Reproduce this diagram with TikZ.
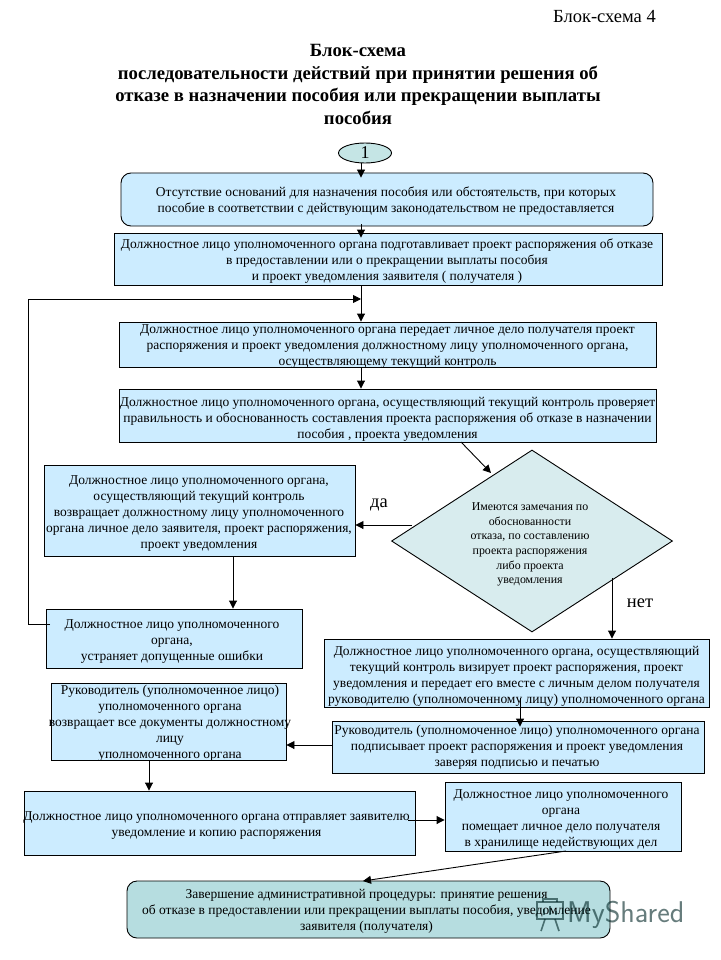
\documentclass[tikz,border=0pt]{standalone}
\usepackage{fontspec}
\setmainfont{Liberation Serif}
\usepackage{tikz}
\usetikzlibrary{arrows.meta,shapes.geometric,calc}
\definecolor{boxblue}{HTML}{CCECFF}
\definecolor{dia}{HTML}{D8ECEE}
\definecolor{ell}{HTML}{C5E5E5}
\definecolor{endc}{HTML}{B6DDE0}
\tikzset{
 box/.style={draw=black,line width=0.9pt,fill=boxblue,inner sep=0pt},
 rbox/.style={box,rounded corners=10pt},
 txt/.style={align=center,inner sep=0pt,font=\fontsize{13.5}{16}\selectfont},
 arr/.style={draw=black,line width=0.9pt,-{Triangle[length=8pt,width=8pt]}},
 lin/.style={draw=black,line width=0.9pt},
 lab/.style={font=\fontsize{18.5}{20}\selectfont,inner sep=0pt},
}
% name, x0,y0,x1,y1, style, dx, dy, text
\newcommand{\bx}[9]{\node[#6,minimum width={#4-#2},minimum height={#5-#3}] (#1) at ({(#2+#4)/2},{(#3+#5)/2}) {};
\node[txt] (#1t) at ({(#2+#4)/2+#7},{(#3+#5)/2+#8}) {#9};}
\begin{document}
\begin{tikzpicture}[x=1pt,y=-1pt]
\useasboundingbox (0,0) rectangle (720,960);
\fill[white] (0,0) rectangle (720,960);
\node[lab,anchor=east] (hdr) at (656,17) {Блок-схема 4};
\node[align=center,inner sep=0pt,font=\fontsize{18.7}{22.7}\selectfont\bfseries] (ttl) at (358,84.5) {Блок-схема\\последовательности действий при принятии решения об\\отказе в назначении пособия или прекращении выплаты\\пособия};
\node[ellipse,draw=black,line width=0.9pt,fill=ell,minimum width=53pt,minimum height=20pt,inner sep=0pt,font=\fontsize{18}{18}\selectfont] (e1) at (365,153) {1};
\bx{b1}{121}{173}{653}{226}{rbox}{-1}{2}{Отсутствие оснований для назначения пособия или обстоятельств, при которых\\пособие в соответствии с действующим законодательством не предоставляется}
\bx{b2}{114}{233}{662}{285}{box}{-1}{2.5}{Должностное лицо уполномоченного органа подготавливает проект распоряжения об отказе\\в предоставлении или о прекращении выплаты пособия\\и проект уведомления заявителя ( получателя )}
\bx{b3}{119}{322}{656}{367}{box}{0}{2}{Должностное лицо уполномоченного органа передает личное дело получателя проект\\распоряжения и проект уведомления должностному лицу уполномоченного органа,\\осуществляющему текущий контроль}
\bx{b4}{119}{389}{656}{442}{box}{0}{3.5}{Должностное лицо уполномоченного органа, осуществляющий текущий контроль проверяет\\правильность и обоснованность составления проекта распоряжения об отказе в назначении\\пособия , проекта уведомления}
\bx{b5}{44}{465}{355}{556}{box}{-0.5}{3.5}{Должностное лицо уполномоченного органа,\\осуществляющий текущий контроль\\возвращает должностному лицу уполномоченного\\органа личное дело заявителя, проект распоряжения,\\проект уведомления}
\bx{b6}{46}{609}{302}{668}{box}{-2}{3}{Должностное лицо уполномоченного\\органа,\\устраняет допущенные ошибки}
\node[diamond,draw=black,line width=0.9pt,fill=dia,minimum width=281pt,minimum height=182pt,inner sep=0pt,aspect=1.54,align=center] (d1) at (532,541) {};
\node[align=center,inner sep=0pt,font=\fontsize{11.9}{14.6}\selectfont] (dt) at (530,544.5) {Имеются замечания по\\обоснованности\\отказа, по составлению\\проекта распоряжения\\либо проекта\\уведомления};
\bx{b7}{324}{639}{709}{707}{box}{0}{3}{Должностное лицо уполномоченного органа, осуществляющий\\текущий контроль визирует проект распоряжения, проект\\уведомления и передает его вместе с личным делом получателя\\руководителю (уполномоченному лицу) уполномоченного органа}
\bx{b8}{51}{683}{286}{760}{box}{1.5}{2}{Руководитель (уполномоченное лицо)\\уполномоченного органа\\возвращает все документы должностному\\лицу\\уполномоченного органа}
\bx{b9}{332}{721}{704}{773}{box}{-1}{0}{Руководитель (уполномоченное лицо) уполномоченного органа\\подписывает проект распоряжения и проект уведомления\\заверяя подписью и печатью}
\bx{b10}{24}{791}{415}{855}{box}{-3}{3}{Должностное лицо уполномоченного органа отправляет заявителю\\уведомление и копию распоряжения}
\bx{b11}{445}{782}{681}{851}{box}{-2}{3}{Должностное лицо уполномоченного\\органа\\помещает личное дело получателя\\в хранилище недействующих дел}
\bx{b12}{127}{881}{610}{938}{rbox,fill=endc}{-2}{2}{Завершение административной процедуры: принятие решения\\об отказе в предоставлении или прекращении выплаты пособия, уведомление\\заявителя (получателя)}
\node[lab] (da) at (379,505) {да};
\node[lab] (net) at (640,603) {нет};
% helper coordinates
\coordinate (xm) at (361,0);
\coordinate (lp) at (28,299);
\coordinate (lb7) at (520,0);
\coordinate (lb5) at (233,0);
\coordinate (lb8) at (149,0);
\draw[arr] (e1.south -| xm) -- ($(b1.north -| xm)+(0,5)$);
\draw[arr] ($(b1.south -| xm)+(0,-2)$) -- ($(b2.north -| xm)+(0,5)$);
\draw[arr] (b2.south -| xm) -- (b3.north -| xm);
\draw[arr] (b3.south -| xm) -- (b4.north -| xm);
\coordinate (dA) at (461,442);
\coordinate (dB) at (491,473);
\draw[arr] (dA) -- (dB);
\coordinate (daS) at (412,525);
\draw[arr] (daS) -- (daS -| b5.east);
\draw[arr] (b5.south -| lb5) -- (b6.north -| lb5);
\coordinate (b6L) at (50,624);
\draw[lin] (b6L) -- (b6L -| lp) -- (lp);
\draw[arr] (lp) -- (lp -| xm);
\coordinate (nS) at (612,578);
\draw[arr] (nS) -- (nS |- b7.north);
\draw[arr] ($(b7.south -| lb7)+(0,-9)$) -- ($(b9.north -| lb7)+(0,6)$);
\coordinate (r9) at (332,745);
\draw[arr] (r9) -- (r9 -| b8.east);
\draw[arr] (b8.south -| lb8) -- (b10.north -| lb8);
\coordinate (s10) at (408,820);
\draw[arr] (s10) -- (s10 -| b11.west);
\coordinate (s11) at (566,851);
\coordinate (e12) at (363,881);
\draw[arr] (s11) -- (e12);
% watermark
\begin{scope}[opacity=0.6]
\node[inner sep=0pt,anchor=west,text=black!70!teal,font=\fontsize{30}{32}\selectfont\sffamily] (wm) at (567,915) {MyShared};
\draw[line width=1.6pt,black!70!teal] (537,902) rectangle (563,919);
\draw[line width=1.6pt,black!70!teal] (543,902) -- (543,899) -- (557,899) -- (557,902);
\draw[line width=1.6pt,black!70!teal] (545,919) -- (541,931) (555,919) -- (559,931);
\draw[line width=2pt,black!70!teal] (544,915) -- (544,909) (550,915) -- (550,906) (556,915) -- (556,911);
\end{scope}
\end{tikzpicture}
\end{document}
